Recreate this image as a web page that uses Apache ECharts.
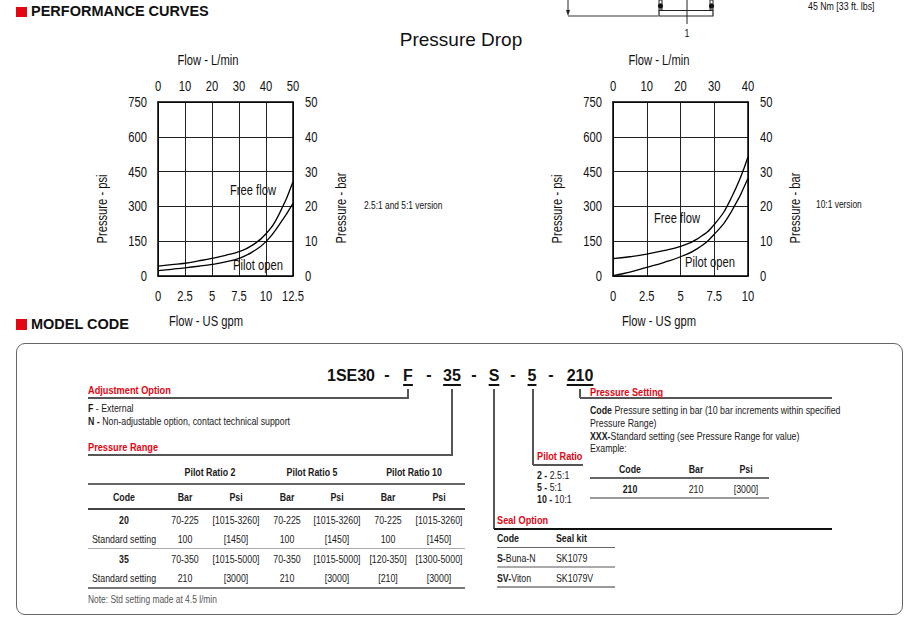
<!DOCTYPE html>
<html><head><meta charset="utf-8">
<script src="https://cdn.jsdelivr.net/npm/echarts@6.0.0/dist/echarts.min.js"></script>
<style>
html,body{margin:0;padding:0;background:#fff;}
#page{position:relative;width:920px;height:622px;overflow:hidden;background:#fff;font-family:'Liberation Sans',Arial,sans-serif;color:#1a1a1a;font-size:11px;}
#chart{position:absolute;left:0;top:0;width:920px;height:622px;}
.t{position:absolute;white-space:nowrap;line-height:14px;height:14px;}
.t > span{display:inline-block;}
.red{color:#e30613;font-weight:bold;font-size:11.5px;}
.hd{font-weight:bold;font-size:14.5px;color:#111;}
.mc{font-weight:bold;font-size:16px;color:#111;line-height:18px;height:18px;}
.ul{text-decoration:underline;text-decoration-thickness:1.5px;text-underline-offset:2.5px;}
.ln{position:absolute;}
.box{position:absolute;left:16px;top:343px;width:885px;height:270px;border:1.5px solid #666;border-radius:9px;}
</style></head><body><div id="page"><div class="box"></div><div id="chart"></div></div>
<script>
// ------------------ DATA ------------------
// Left chart (2.5:1 and 5:1 version): [flow US gpm, pressure psi]
const leftFreeFlow  = [[0,43],[1.25,49],[2.5,55],[3.75,65],[5,76],[6.25,89],[7.5,105],[8.75,133],[10,182],[11.25,270],[12.5,406]];
const leftPilotOpen = [[0,23],[1.25,29],[2.5,35],[3.75,42],[5,50],[6.25,61],[7.5,76],[8.75,104],[10,148],[11.25,222],[12.5,313]];
// Right chart (10:1 version)
const rightFreeFlow  = [[0,75],[1.25,83],[2.5,94],[3.75,109],[5,128],[6.25,160],[7.5,222],[8.75,335],[10,514]];
const rightPilotOpen = [[0,2],[1.25,17],[2.5,37],[3.75,58],[5,83],[6.25,118],[7.5,180],[8.75,275],[10,421]];
// Axis ranges
const leftGpmAxis  = {min:0, max:12.5, interval:2.5};
const leftLpmAxis  = {min:0, max:50, interval:10};
const rightGpmAxis = {min:0, max:10, interval:2.5};
const rightLpmAxis = {min:0, max:40, interval:10};
const psiAxis = {min:0, max:750, interval:150};
const barAxis = {min:0, max:50, interval:10};

// Model code texts
const modelCode = ['1SE30','F','35','S','5','210'];
const adjustmentOptions = ['<b>F</b> - External','<b>N -</b> Non-adjustable option, contact technical support'];
const pressureGroups = ['Pilot Ratio 2','Pilot Ratio 5','Pilot Ratio 10'];
const pressureHeader = ['Code','Bar','Psi','Bar','Psi','Bar','Psi'];
const pressureRows = [
  ['20','70-225','[1015-3260]','70-225','[1015-3260]','70-225','[1015-3260]'],
  ['Standard setting','100','[1450]','100','[1450]','100','[1450]'],
  ['35','70-350','[1015-5000]','70-350','[1015-5000]','[120-350]','[1300-5000]'],
  ['Standard setting','210','[3000]','210','[3000]','[210]','[3000]']
];
const pressureSettingText = ['<b>Code</b> Pressure setting in bar (10 bar increments within specified','Pressure Range)','<b>XXX-</b>Standard setting (see Pressure Range for value)','Example:'];
const exampleHeader = ['Code','Bar','Psi'];
const exampleRow = ['210','210','[3000]'];
const pilotRatios = ['<b>2 -</b> 2.5:1','<b>5 -</b> 5:1','<b>10 -</b> 10:1'];
const sealHeader = ['Code','Seal kit'];
const sealRows = [['<b>S-</b>Buna-N','SK1079'],['<b>SV-</b>Viton','SK1079V']];

// ------------------ HTML TEXT LAYER ------------------
const NARROW = 0.8;
const page = document.getElementById('page');
function put(x, y, html, o) {
  o = o || {};
  const d = document.createElement('div');
  d.className = 't' + (o.cls ? ' ' + o.cls : '');
  const s = document.createElement('span');
  s.innerHTML = html;
  if (o.ul) s.className = 'ul';
  const k = o.k === undefined ? NARROW : o.k;
  const origin = o.a === 'c' ? 'center' : (o.a === 'r' ? 'right' : 'left');
  s.style.transform = 'scaleX(' + k + ')';
  s.style.transformOrigin = origin + ' center';
  d.appendChild(s);
  const lh = o.lh || 14;
  d.style.top = (y - lh / 2) + 'px';
  if (o.a === 'c') { d.style.left = x + 'px'; d.style.transform = 'translateX(-50%)'; }
  else if (o.a === 'r') { d.style.right = (920 - x) + 'px'; }
  else d.style.left = x + 'px';
  if (o.size) d.style.fontSize = o.size + 'px';
  if (o.color) d.style.color = o.color;
  if (o.bold) d.style.fontWeight = 'bold';
  page.appendChild(d);
}
function hl(x1, x2, y, c, w) { w = w || 1.5; const d = document.createElement('div'); d.className='ln';
  d.style.cssText += `left:${x1}px;top:${y - w/2}px;width:${x2 - x1}px;height:${w}px;background:${c||'#555'};`; page.appendChild(d); }
function vl(x, y1, y2, c, w) { w = w || 1.5; const d = document.createElement('div'); d.className='ln';
  d.style.cssText += `left:${x - w/2}px;top:${y1}px;width:${w}px;height:${y2 - y1}px;background:${c||'#555'};`; page.appendChild(d); }
function sq(x, y) { const d = document.createElement('div'); d.className='ln';
  d.style.cssText += `left:${x}px;top:${y}px;width:11px;height:10.5px;background:#e30613;`; page.appendChild(d); }

// Section headers
sq(16, 6.5); put(31, 12, 'PERFORMANCE CURVES', {cls:'hd', lh:16, k:1});
sq(16, 319); put(31, 325, 'MODEL CODE', {cls:'hd', lh:16, k:1});

// Model code string
const codeX = [351, 408, 452, 494, 532, 580];
const dashX = [387, 429, 474, 513, 551];
modelCode.forEach((s, i) => put(codeX[i], 376, s, {cls:'mc', ul: i > 0, a:'c', lh:18, k:1}));
dashX.forEach(x => put(x, 375, '-', {cls:'mc', a:'c', lh:18, k:1}));

// connectors
vl(408, 389, 398); hl(88, 408.75, 398);
vl(452, 389, 455); hl(88, 452.75, 455);
vl(494, 389, 529, '#555');
vl(533, 389, 465); hl(533, 583, 465);
vl(580, 389, 398); hl(580, 832, 398);
hl(494, 832, 529, '#111');

// Adjustment option
put(88, 390, 'Adjustment Option', {cls:'red'});
adjustmentOptions.forEach((s, i) => put(88, 408 + i * 12.5, s));

// Pressure range table
put(88, 447, 'Pressure Range', {cls:'red'});
const groupX = [210, 312, 414];
pressureGroups.forEach((s, i) => put(groupX[i], 472, s, {a:'c', bold:true}));
hl(88, 465, 484, '#666');
const colX = [123.5, 185, 236, 287, 337, 388, 439];
pressureHeader.forEach((s, i) => put(colX[i], 497, s, {a:'c', bold:true}));
hl(88, 465, 509, '#444');
const rowY = [520, 539, 559, 578];
pressureRows.forEach((r, ri) => r.forEach((s, ci) => put(colX[ci], rowY[ri], s, {a:'c', bold: ci === 0 && ri % 2 === 0})));
hl(88, 465, 548.5, '#aaa');
hl(88, 465, 588, '#777');
put(88, 599, 'Note: Std setting made at 4.5 l/min', {color:'#555', size:10.5});

// Pressure setting
put(590, 392, 'Pressure Setting', {cls:'red'});
pressureSettingText.forEach((s, i) => put(590, 410 + i * 12.8, s));
const exX = [630, 696, 746];
exampleHeader.forEach((s, i) => put(exX[i], 469, s, {a:'c', bold:true}));
hl(590, 769, 478, '#666');
exampleRow.forEach((s, i) => put(exX[i], 489, s, {a:'c', bold: i === 0}));
hl(590, 769, 498, '#999');

// Pilot ratio
put(537, 456, 'Pilot Ratio', {cls:'red'});
pilotRatios.forEach((s, i) => put(537, 475 + i * 12.2, s));

// Seal option
put(497, 520, 'Seal Option', {cls:'red'});
const sealX = [497, 556];
sealHeader.forEach((s, i) => put(sealX[i], 538, s, {bold:true}));
hl(497, 615, 547.5, '#666');
sealRows.forEach((r, ri) => r.forEach((s, ci) => put(sealX[ci], 558 + ri * 20, s)));
hl(497, 615, 567, '#aaa');
hl(497, 615, 587, '#999');

// ------------------ ECHARTS ------------------
const FONT = "'Liberation Sans',Arial,sans-serif";
const chart = echarts.init(document.getElementById('chart'), null, {renderer:'svg', width:920, height:622});
const lbl = (margin) => ({margin, fontSize:14, color:'#111', fontFamily:FONT});
const border = {show:true, onZero:false, lineStyle:{color:'#000', width:1.5}};
function ax(grid, pos, rng, split, margin) {
  return Object.assign({gridIndex:grid, type:'value', position:pos, axisLine:border, axisTick:{show:false},
    splitLine:{show:split, lineStyle:{color:'#222', width:1}}, axisLabel:lbl(margin)}, rng);
}
const curve = (data, xi, yi) => ({type:'line', data, xAxisIndex:xi, yAxisIndex:yi, smooth:0.5,
  showSymbol:false, symbol:'none', lineStyle:{color:'#000', width:1.3}, silent:true, z:5});
const txt = (x, y, text, o) => Object.assign({type:'text', x, y, silent:true,
  style:Object.assign({text, fontSize:14, fontFamily:FONT, fill:'#111', align:'center', verticalAlign:'middle'}, (o||{}).style||{})},
  (o||{}).rot ? {rotation:Math.PI/2} : {});

chart.setOption({
  animation:false,
  grid:[{left:158, top:102, width:135, height:174}, {left:613, top:102, width:135, height:174}],
  xAxis:[ax(0,'bottom',leftGpmAxis,true,13), ax(0,'top',leftLpmAxis,false,9),
         ax(1,'bottom',rightGpmAxis,true,13), ax(1,'top',rightLpmAxis,false,9)],
  yAxis:[ax(0,'left',psiAxis,true,11), ax(0,'right',barAxis,false,12),
         ax(1,'left',psiAxis,true,11), ax(1,'right',barAxis,false,12)],
  series:[curve(leftFreeFlow,0,0), curve(leftPilotOpen,0,0), curve(rightFreeFlow,2,2), curve(rightPilotOpen,2,2)],
  graphic:{elements:[
    txt(461, 39, 'Pressure Drop', {style:{fontSize:19}}),
    txt(208, 60, 'Flow - L/min'), txt(659, 60, 'Flow - L/min'),
    txt(206, 321, 'Flow - US gpm'), txt(659, 321, 'Flow - US gpm'),
    txt(101.5, 209, 'Pressure - psi', {rot:true}), txt(557, 209, 'Pressure - psi', {rot:true}),
    txt(341, 208, 'Pressure - bar', {rot:true}), txt(795, 208, 'Pressure - bar', {rot:true}),
    txt(364, 204.5, '2.5:1 and 5:1 version', {style:{fontSize:10.5, align:'left'}}),
    txt(816, 204, '10:1 version', {style:{fontSize:10.5, align:'left'}}),
    txt(253, 190, 'Free flow'), txt(258, 265, 'Pilot open'),
    txt(677, 218, 'Free flow'), txt(710, 262, 'Pilot open'),
    // top-right drawing fragment
    {type:'line', shape:{x1:568, y1:0, x2:568, y2:12}, style:{stroke:'#222', lineWidth:1}},
    {type:'polygon', shape:{points:[[566,10],[570,10],[568,16]]}, style:{fill:'#222'}},
    {type:'line', shape:{x1:568, y1:16, x2:658, y2:16}, style:{stroke:'#333', lineWidth:1}},
    {type:'rect', shape:{x:659, y:10.5, width:54, height:5.5}, style:{fill:'none', stroke:'#222', lineWidth:1.2}},
    {type:'rect', shape:{x:659, y:0, width:3, height:10}, style:{fill:'none', stroke:'#222', lineWidth:1}},
    {type:'rect', shape:{x:710, y:0, width:3, height:10}, style:{fill:'none', stroke:'#222', lineWidth:1}},
    {type:'circle', shape:{cx:660.5, cy:6, r:2.6}, style:{fill:'#111'}},
    {type:'circle', shape:{cx:711.5, cy:6, r:2.6}, style:{fill:'#111'}},
    {type:'line', shape:{x1:687, y1:0, x2:687, y2:24}, style:{stroke:'#222', lineWidth:1}},
    txt(687, 33, '1', {style:{fontSize:11}}),
    txt(808, 6, '45 Nm [33 ft. lbs]', {style:{fontSize:11, align:'left'}})
  ]}
});

// condense chart texts (reference uses a condensed typeface)
function condense() {
  document.querySelectorAll('#chart svg text').forEach(t => {
    if (t.textContent === 'Pressure Drop' || t.getAttribute('data-nw')) return;
    const len = t.getComputedTextLength();
    if (len > 0) {
      t.setAttribute('textLength', (len * NARROW).toFixed(2));
      t.setAttribute('lengthAdjust', 'spacingAndGlyphs');
      t.setAttribute('data-nw', '1');
    }
  });
}
chart.getZr().flush();
condense();
chart.on('finished', condense);
</script></body></html>
